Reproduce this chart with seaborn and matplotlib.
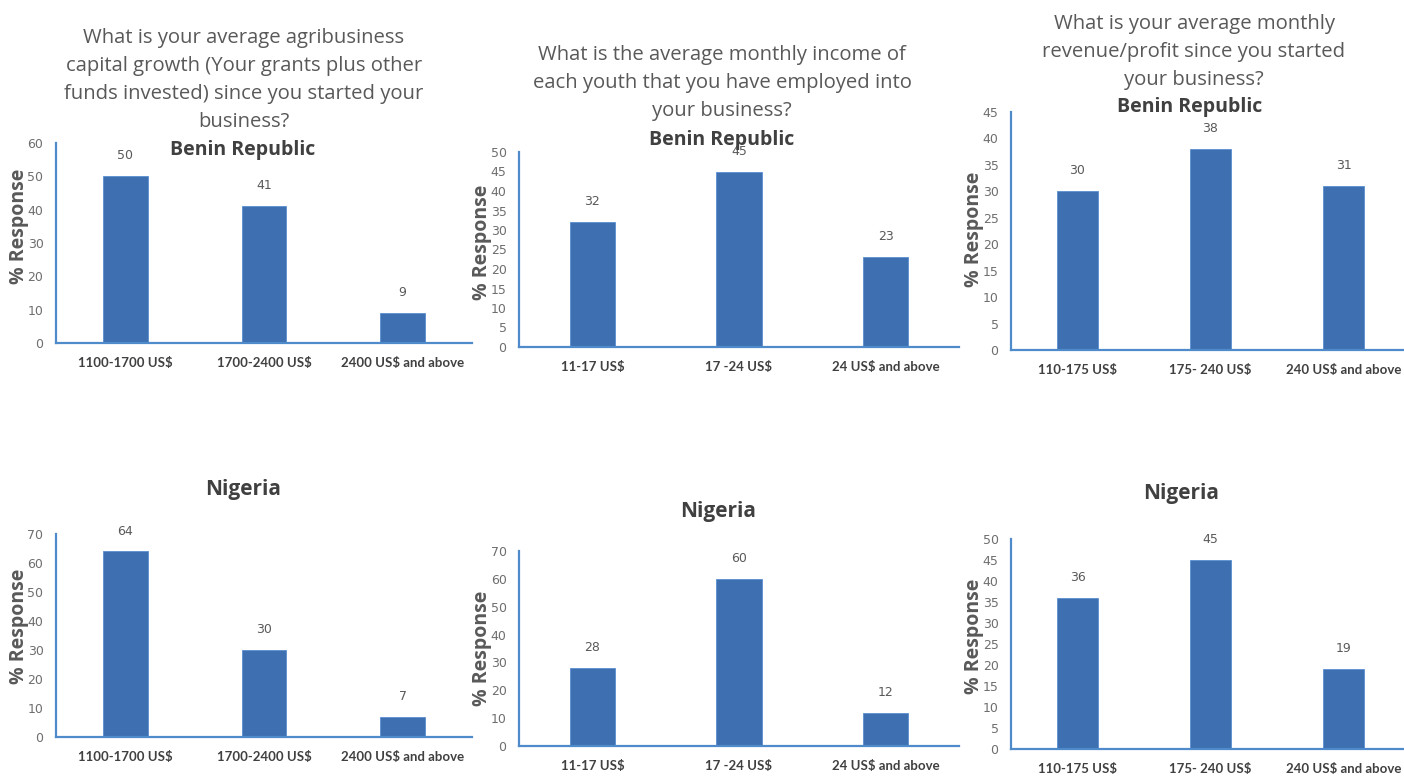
import matplotlib
matplotlib.use("Agg")
import matplotlib.pyplot as plt
import seaborn as sns
import pandas as pd

sns.set_theme(style="white")
plt.rcParams["font.family"] = ["Open Sans", "DejaVu Sans"]

# ---- data -------------------------------------------------------------
capital_labels = ["1100-1700 US$", "1700-2400 US$", "2400 US$ and above"]
income_labels = ["11-17 US$", "17 -24 US$", "24 US$ and above"]
revenue_labels = ["110-175 US$", "175- 240 US$", "240 US$ and above"]

benin_capital = [50, 41, 9]
benin_income = [32, 45, 23]
benin_revenue = [30, 38, 31]

nigeria_capital = [64, 30, 7]
nigeria_income = [28, 60, 12]
nigeria_revenue = [36, 45, 19]

question_capital = ("What is your average agribusiness\ncapital growth (Your grants plus other\n"
                    "funds invested) since you started your\nbusiness?")
question_income = ("What is the average monthly income of\neach youth that you have employed into\n"
                   "your business?")
question_revenue = "What is your average monthly\nrevenue/profit since you started\nyour business?"

# ---- style ------------------------------------------------------------
BAR = "#3E6FB0"
AXIS = "#4F8BCB"
GREY = "#595959"
TICK = "#6E6E6E"
DARK = "#404040"

W, H = 1404, 776
fig = plt.figure(figsize=(W / 100, H / 100), dpi=100)


def panel(left, right, top, bottom, label_y, cats, vals, ymax, step, width):
    rect = [left / W, 1 - bottom / H, (right - left) / W, (bottom - top) / H]
    ax = fig.add_axes(rect)
    df = pd.DataFrame({"cat": cats, "val": vals})
    sns.barplot(data=df, x="cat", y="val", ax=ax, color=BAR, width=width,
                saturation=1, edgecolor="#5A8FD0", linewidth=0.6)
    ax.set_ylim(0, ymax)
    ax.set_xlim(-0.5, 2.5)
    ax.set_yticks(range(0, ymax + 1, step))
    ax.set_xlabel("")
    ax.set_ylabel("% Response", fontsize=14, fontweight="bold", color=GREY,
                  va="center")
    # y-label centre, given in figure pixels
    ax.yaxis.set_label_coords(-37 / (right - left),
                              (bottom - label_y) / (bottom - top))
    for s in ["top", "right"]:
        ax.spines[s].set_visible(False)
    for s in ["left", "bottom"]:
        ax.spines[s].set_color(AXIS)
        ax.spines[s].set_linewidth(1.6)
    ax.tick_params(axis="y", length=0, pad=9, labelsize=9, labelcolor=TICK)
    ax.tick_params(axis="x", length=0, pad=10, labelsize=9.5, labelcolor=DARK)
    for t in ax.get_yticklabels():
        t.set_fontfamily(["Liberation Sans Narrow", "DejaVu Sans"])
    for t in ax.get_xticklabels():
        t.set_fontfamily(["Lato", "DejaVu Sans"])
        t.set_fontweight("bold")
    for i, v in enumerate(vals):
        ax.annotate(f"{v}", (i, v), xytext=(0, 10), textcoords="offset points",
                    ha="center", va="bottom", fontsize=9, color=GREY,
                    family=["Liberation Sans Narrow", "DejaVu Sans"])
    return ax


panel(56, 472, 143, 343, 226, capital_labels, benin_capital, 60, 10, 0.32)
panel(519, 959, 152, 347, 242, income_labels, benin_income, 50, 5, 0.31)
panel(1011, 1410, 112, 350, 229, revenue_labels, benin_revenue, 45, 5, 0.31)
panel(56, 472, 534, 737, 626, capital_labels, nigeria_capital, 70, 10, 0.32)
panel(519, 959, 551, 746, 648, income_labels, nigeria_income, 70, 10, 0.31)
panel(1011, 1410, 539, 749, 636, revenue_labels, nigeria_revenue, 50, 5, 0.31)


def ftext(x, y, s, **kw):
    fig.text(x / W, 1 - y / H, s, ha="center", va="center", **kw)


# questions
ftext(244, 80, question_capital, fontsize=14.6, color=GREY, linespacing=1.52)
ftext(722, 83, question_income, fontsize=14.6, color=GREY, linespacing=1.52)
ftext(1194, 52, question_revenue, fontsize=14.6, color=GREY, linespacing=1.52)

# country subtitles
ftext(243, 150, "Benin Republic", fontsize=14, fontweight="bold", color=DARK)
ftext(722, 140, "Benin Republic", fontsize=14, fontweight="bold", color=DARK)
ftext(1190, 107, "Benin Republic", fontsize=14, fontweight="bold", color=DARK)
ftext(243, 490, "Nigeria", fontsize=15, fontweight="bold", color=DARK)
ftext(718, 511, "Nigeria", fontsize=15, fontweight="bold", color=DARK)
ftext(1181, 493, "Nigeria", fontsize=15, fontweight="bold", color=DARK)

fig.savefig("out.png", dpi=100, facecolor="white")
